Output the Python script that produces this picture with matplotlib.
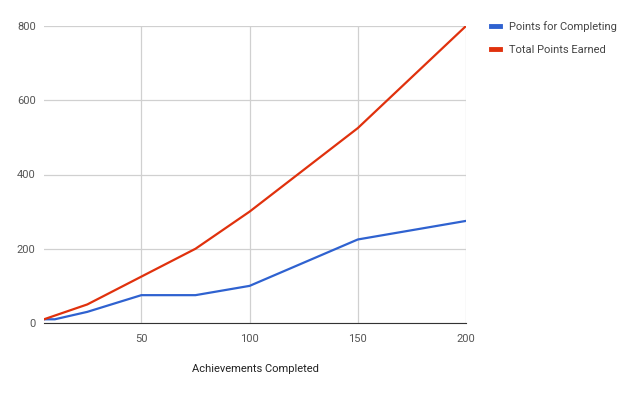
import matplotlib.pyplot as plt

# Data
achievements = [5, 10, 25, 50, 75, 100, 150, 200]
points_for_completing = [10, 10, 30, 75, 75, 100, 225, 275]
total_points_earned = [10, 20, 50, 125, 200, 300, 525, 800]

x_ticks = [50, 100, 150, 200]
y_ticks = [0, 200, 400, 600, 800]

plt.rcParams['font.family'] = ['Roboto', 'DejaVu Sans']

fig = plt.figure(figsize=(6.4, 3.95), dpi=100)
ax = fig.add_axes([44 / 640, 1 - 323 / 395, (466 - 44) / 640, (323 - 26) / 395])

ax.plot(achievements, points_for_completing, color='#2f62d0', lw=1.6,
        label='Points for Completing', solid_joinstyle='round')
ax.plot(achievements, total_points_earned, color='#e0310d', lw=1.6,
        label='Total Points Earned', solid_joinstyle='round')

ax.set_xlim(5, 200)
ax.set_ylim(0, 800)
ax.set_xticks(x_ticks)
ax.set_yticks(y_ticks)
ax.grid(True, color='#d0d0d0', lw=0.9)
ax.set_axisbelow(True)
for s in ['top', 'right', 'left']:
    ax.spines[s].set_visible(False)
ax.spines['bottom'].set_color('#333333')
ax.tick_params(length=0, labelsize=8, colors='#555555', pad=8)
ax.tick_params(axis='y', pad=6)

ax.set_xlabel('Achievements Completed', fontsize=8, color='#222222', labelpad=14)

leg = ax.legend(loc='upper left', bbox_to_anchor=(1.035, 1.05), frameon=False,
                fontsize=8, handlelength=0.8, handletextpad=0.8, labelspacing=1.15)
for t in leg.get_texts():
    t.set_color('#444444')
for h in leg.get_lines():
    h.set_linewidth(3.5)

fig.savefig('out.png', dpi=100)
